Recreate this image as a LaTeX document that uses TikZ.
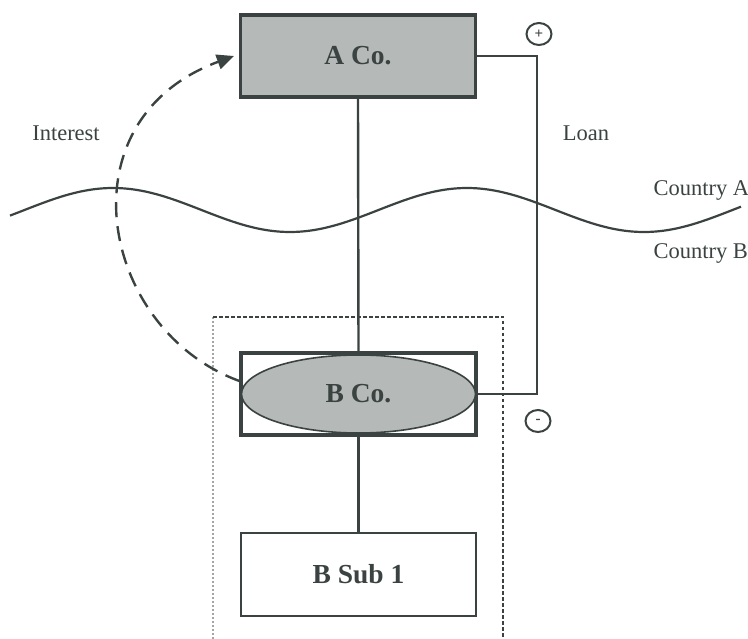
\documentclass[tikz,border=0pt]{standalone}
\usepackage{fontspec}
\setmainfont{Liberation Serif}
\usetikzlibrary{shapes.geometric, arrows.meta, positioning}

\definecolor{inkgray}{HTML}{3A4341}
\definecolor{boxgray}{HTML}{B5BAB8}
\definecolor{dotgray}{HTML}{A3A6A5}

\begin{document}
\begin{tikzpicture}[x=1pt, y=-1pt,
    company/.style={draw=inkgray, line width=3.2pt, minimum width=235pt, minimum height=82pt,
      inner sep=0pt, text=inkgray, font=\fontsize{27.5}{32}\selectfont\bfseries},
    tag/.style={text=inkgray, font=\fontsize{22.5}{27}\selectfont},
    sign/.style={ellipse, draw=inkgray, line width=2pt, minimum width=25pt, minimum height=22pt,
      inner sep=0pt, text=inkgray, font=\fontsize{15}{15}\selectfont\bfseries},
    link/.style={draw=inkgray, line width=2.4pt}]
  \useasboundingbox (0,0) rectangle (748,639);

  % Border between the countries
  \draw[inkgray, line width=2.2pt] plot[domain=10:741, samples=120, smooth]
    (\x, {210 - 22*cos(1.01695*(\x-113))});
  \node[tag, anchor=west] (ctya) at (650,190) {Country A};
  \node[tag, anchor=west] (ctyb) at (650,253) {Country B};

  % Group of country B
  \draw[dotgray, line width=2.5pt, dash pattern=on 2pt off 2pt] (213,317) -- (213,639);
  \draw[inkgray, line width=1.6pt, dash pattern=on 3.5pt off 2.5pt] (213,317) -- (503,317) -- (503,639);

  % Companies
  \node[company, fill=boxgray] (aco) at (358,56) {A Co.};
  \node[company] (bcobox) at (358.5,394) {};
  \node[ellipse, draw=inkgray, line width=1.6pt, fill=boxgray, minimum width=234pt, minimum height=78pt,
    inner sep=0pt, text=inkgray, font=\fontsize{27.5}{32}\selectfont\bfseries] (bco) at (358.5,394) {B Co.};
  \node[company, line width=2.7pt, minimum height=83pt] (bsub) at (358.5,574.5) {B Sub 1};

  % Ownership
  \draw[link] (aco.south) -- (bcobox.north);
  \draw[link] (bcobox.south) -- (bsub.north);

  % Loan
  \coordinate (loan) at (537,0);
  \draw[inkgray, line width=1.6pt] (aco.east) -- (aco.east -| loan) -- (bco.east -| loan) -- (bco.east);
  \node[tag] (loanlbl) at (586,133) {Loan};
  \node[sign] (plus) at (539,34) {+};
  \node[sign] (minus) at (538,421) {-};

  % Interest
  \draw[link, dash pattern=on 15pt off 9pt, -{Triangle[length=17pt, width=15pt]}]
    ([yshift=13pt]bcobox.west) .. controls (100,330) and (60,120) .. ([xshift=-5pt]aco.west);
  \node[tag] (intlbl) at (66,133) {Interest};
\end{tikzpicture}
\end{document}
